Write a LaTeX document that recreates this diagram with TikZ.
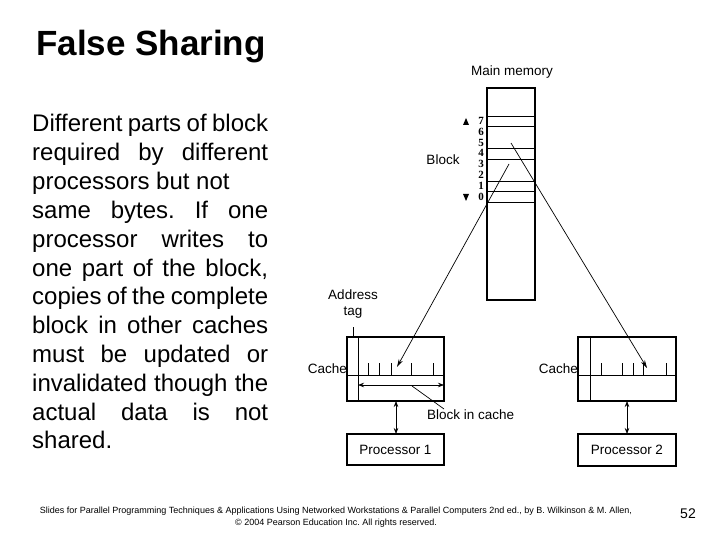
\documentclass[tikz,border=0pt]{standalone}
\usepackage{fontspec}
\setmainfont{Liberation Sans}
\newfontfamily\digitfont{Liberation Serif}
\usetikzlibrary{arrows.meta}
\frenchspacing
\begin{document}
\begin{tikzpicture}[x=1pt,y=-1pt,
  box/.style={draw, line width=1.6pt, inner sep=0pt, outer sep=0pt, anchor=north west},
  thinline/.style={line width=0.7pt},
  lbl/.style={font=\fontsize{13.5}{16}\selectfont, inner sep=0pt},
  body/.style={font=\fontsize{24}{28.8}\selectfont, anchor=base west, inner sep=0pt},
  digit/.style={font=\digitfont\bfseries\fontsize{11}{11}\selectfont, inner sep=0pt},
  tip/.style={-{Stealth[length=8pt,width=4.5pt]}},
  dtip/.style={{Stealth[length=6pt,width=4.5pt]}-{Stealth[length=6pt,width=4.5pt]}}]
\useasboundingbox (0,0) rectangle (720,540);

% title
\node[anchor=base west, inner sep=0pt, font=\fontsize{35}{40}\selectfont\bfseries] (title) at (36,56) {False Sharing};

% body text
\def\W{236pt}
\node[body] (l1) at (32,132.0) {\makebox[\W][s]{Different parts of block}};
\node[body] (l2) at (32,160.8) {\makebox[\W][s]{required by different}};
\node[body] (l3) at (32,189.6) {processors but not};
\node[body] (l4) at (32,218.4) {\makebox[\W][s]{same bytes. If one}};
\node[body] (l5) at (32,247.2) {\makebox[\W][s]{processor writes to}};
\node[body] (l6) at (32,276.0) {\makebox[\W][s]{one part of the block,}};
\node[body] (l7) at (32,304.8) {\makebox[\W][s]{copies of the complete}};
\node[body] (l8) at (32,333.6) {\makebox[\W][s]{block in other caches}};
\node[body] (l9) at (32,362.4) {\makebox[\W][s]{must be updated or}};
\node[body] (l10) at (32,391.2) {\makebox[\W][s]{invalidated though the}};
\node[body] (l11) at (32,420.0) {\makebox[\W][s]{actual data is not}};
\node[body] (l12) at (32,448.8) {shared.};

% main memory
\node[lbl] (mmlbl) at (512,72) {Main memory};
\node[box, minimum width=48pt, minimum height=212pt] (mem) at (487,88) {};
\foreach \y in {116,126,148,159,181,191,202}
  \draw[thinline] (mem.west |- 0,\y) -- (mem.east |- 0,\y);
\foreach \d/\y in {7/121,6/132,5/143,4/153,3/164,2/175,1/186,0/197}
  \node[digit] (d\d) at (481,\y) {\d};
\fill (463,125) -- (469,125) -- (466,118) -- cycle;
\fill (463,194) -- (469,194) -- (466,201) -- cycle;
\node[lbl] (blk) at (443,160) {Block};

% cache 1
\node[box, minimum width=97pt, minimum height=64pt] (cacheA) at (347,337) {};
\draw[thinline] (358,337) -- (358,401);
\draw[thinline] (cacheA.west |- 0,375) -- (cacheA.east |- 0,375);
\foreach \x in {368,379,391,411,433}
  \draw[thinline] (\x,363) -- (\x,375);
\coordinate (ba) at (358,385);
\coordinate (bb) at (cacheA.east |- 0,385);
\draw[thinline, dtip] (ba) -- (bb);
\node[lbl, anchor=east] (cachelblA) at (347,369) {Cache};
\node[lbl, align=center] (tag) at (353,304) {Address\\tag};
\coordinate (tagtop) at (353,327);
\draw[thinline] (tagtop) -- (tagtop |- cacheA.north);
\node[lbl, anchor=west] (bic) at (427,415) {Block in cache};
\coordinate (bicA) at (412,386);
\coordinate (bicB) at (444,409);
\draw[thinline] (bicA) -- (bicB);

% cache 2
\node[box, minimum width=98pt, minimum height=64pt] (cacheB) at (578,337) {};
\draw[thinline] (590,337) -- (590,401);
\draw[thinline] (cacheB.west |- 0,375) -- (cacheB.east |- 0,375);
\foreach \x in {601,622,633,643,666}
  \draw[thinline] (\x,363) -- (\x,375);
\node[lbl, anchor=east] (cachelblB) at (578,369) {Cache};

% processors
\node[box, minimum width=97pt, minimum height=31pt, anchor=north west] (p1) at (347,434) {};
\node[lbl] (p1t) at (p1.center) {Processor 1};
\node[box, minimum width=98pt, minimum height=32pt, anchor=north west] (p2) at (578,434) {};
\node[lbl] (p2t) at (p2.center) {Processor 2};
\draw[thinline, dtip] (p1.north -| 396,0) -- (cacheA.south -| 396,0);
\draw[thinline, dtip] (p2.north -| 627,0) -- (cacheB.south -| 627,0);

% pointers from memory to caches
\coordinate (m1) at (509,164);
\coordinate (c1) at (397,367);
\coordinate (m2) at (511,143);
\coordinate (c2) at (647,368);
\draw[thinline, tip] (m1) -- (c1);
\draw[thinline, tip] (m2) -- (c2);

% footer
\node[font=\fontsize{9}{12}\selectfont, align=center, inner sep=0pt] (foot) at (336,517)
  {Slides for Parallel Programming Techniques \& Applications Using Networked Workstations \& Parallel Computers 2nd ed., by B. Wilkinson \& M. Allen,\\
   © 2004 Pearson Education Inc. All rights reserved.};
\node[font=\fontsize{14}{16}\selectfont, inner sep=0pt] (pg) at (688,514) {52};
\end{tikzpicture}
\end{document}
